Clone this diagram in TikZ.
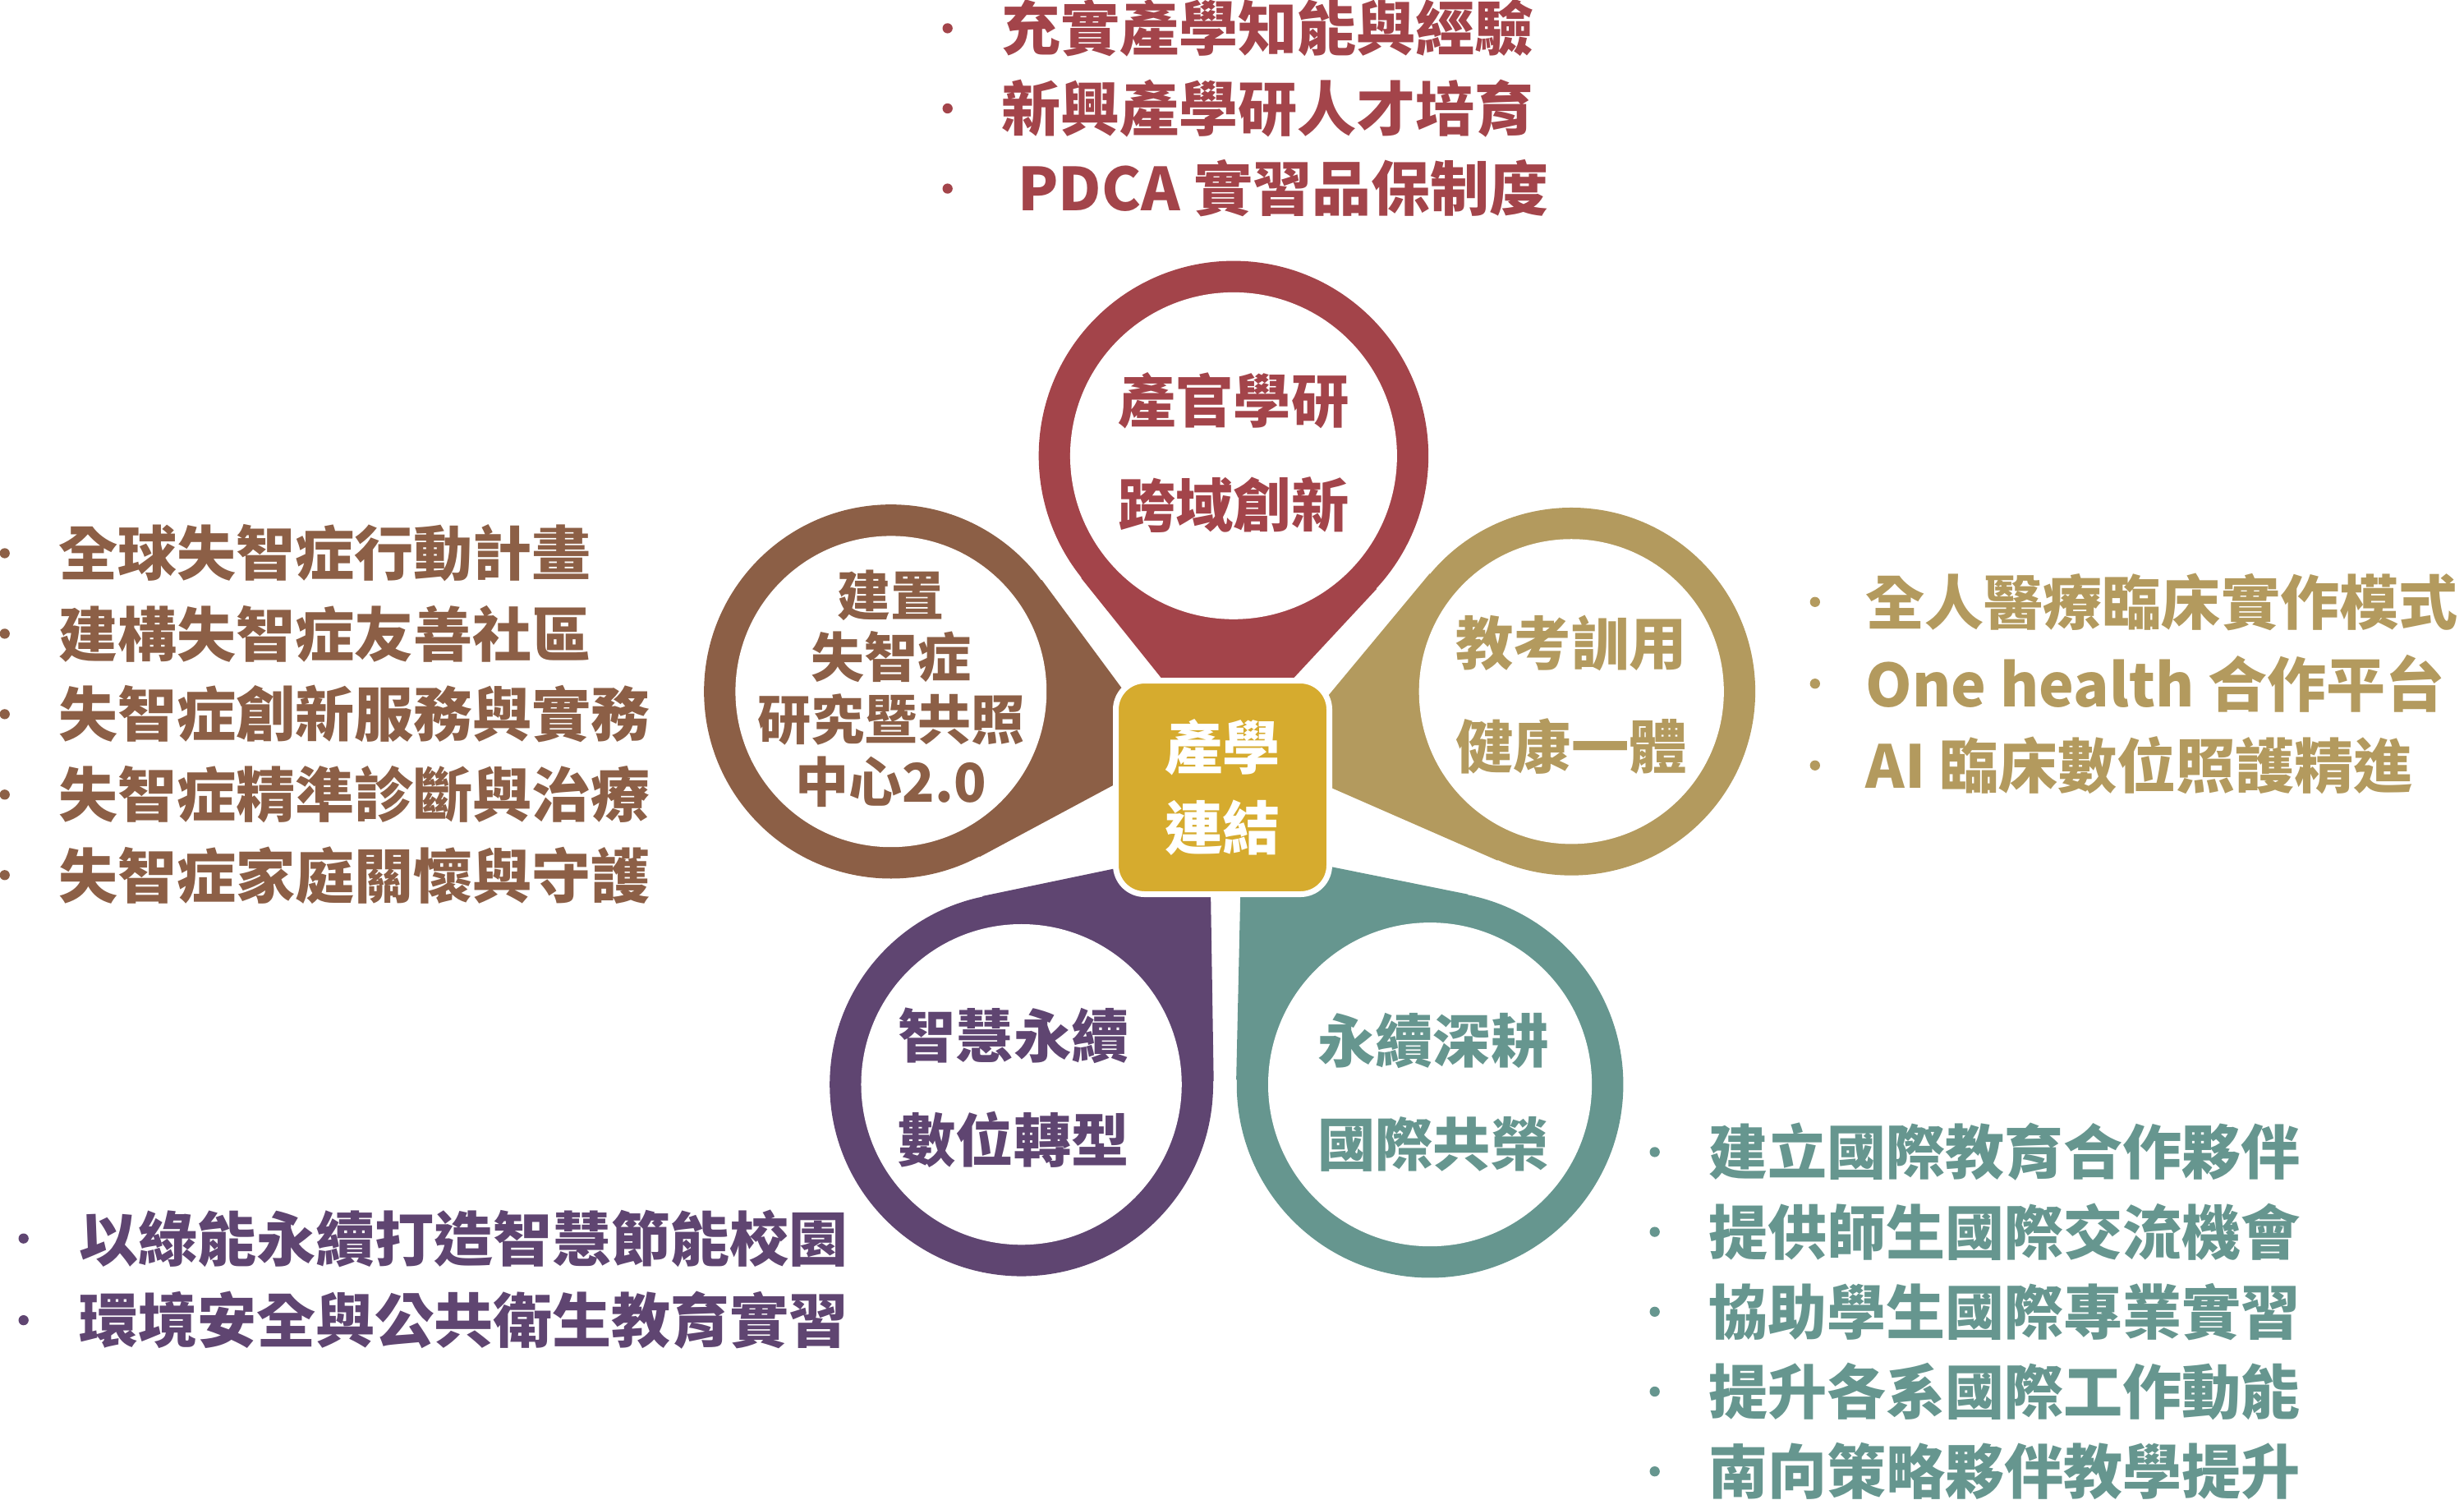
\documentclass[tikz,border=0pt]{standalone}
\usepackage{fontspec}
\newfontfamily\cjk{Noto Sans CJK TC}
\usetikzlibrary{calc}
\definecolor{petalred}{HTML}{A3444A}
\definecolor{petalgold}{HTML}{B39A5E}
\definecolor{petalbrown}{HTML}{8C5F46}
\definecolor{petalpurple}{HTML}{5F4571}
\definecolor{petalteal}{HTML}{66968F}
\definecolor{hubgold}{HTML}{D6AB2E}
\tikzset{
  petaltext/.style={font=\cjk\bfseries\fontsize{20}{24}\selectfont, align=center},
  bullettext/.style={font=\cjk\bfseries\fontsize{20.5}{24}\selectfont, anchor=west, inner sep=0pt},
  bulletdot/.style={circle, fill, inner sep=0pt, minimum size=3.5pt},
}
% name, colour, centre, radius, tip
\newcommand\petal[5]{%
  \node[circle, minimum size={2*#4*0.01913cm}, inner sep=0pt] (#1) at (#3) {};
  \coordinate (#1tip) at (#5);
  \fill[#2] (#1tip) -- (tangent cs:node=#1,point={(#1tip)},solution=1) -- (#1.center)
    -- (tangent cs:node=#1,point={(#1tip)},solution=2) -- cycle;
  \fill[#2] (#1.center) circle (#4);
  \fill[white] (#1.center) circle (#4-20);
}
\begin{document}
\begin{tikzpicture}[x=0.01913cm, y=-0.01913cm]
    \useasboundingbox (0,0) rectangle (1568,954);
    \petal{top}{petalred}{785,290}{124}{778,480}
    \petal{right}{petalgold}{1000,440}{117}{810,485}
    \petal{left}{petalbrown}{567,440}{119}{745,480}
    \petal{botl}{petalpurple}{650,690}{122}{770,540}
    \petal{botr}{petalteal}{910,690}{123}{790,540}
    % hub
    \node[fill=hubgold, draw=white, line width=2pt, rounded corners=10pt,
      minimum size=2.6cm, text=white, petaltext] (hub) at (778,501) {產學\\[4pt]連結};
    % petal texts
    \node[petaltext, text=petalred] (toptext) at (785,288) {產官學研\\[12pt]跨域創新};
    \node[petaltext, text=petalgold] (righttext) at (1000,442) {教考訓用\\[12pt]健康一體};
    \node[petaltext, text=petalbrown, font=\cjk\bfseries\fontsize{18.5}{21.5}\selectfont] (lefttext) at (567,438) {建置\\失智症\\研究暨共照\\中心2.0};
    \node[petaltext, text=petalpurple] (botltext) at (645,692) {智慧永續\\[12pt]數位轉型};
    \node[petaltext, text=petalteal] (botrtext) at (912,695) {永續深耕\\[12pt]國際共榮};
    % bullet lists
    \foreach \t [count=\i] in {充實產學知能與經驗, 新興產學研人才培育, {\hspace{0.2cm}PDCA 實習品保制度}}{
      \node[bullettext, text=petalred] (topb\i) at (637,18+51*\i-51) {\t};
      \node[bulletdot, petalred] (topd\i) at (603,18+51*\i-51) {};}
    \foreach \t [count=\i] in {全球失智症行動計畫, 建構失智症友善社區, 失智症創新服務與實務, 失智症精準診斷與治療, 失智症家庭關懷與守護}{
      \node[bullettext, text=petalbrown] (leftb\i) at (37,352+51.2*\i-51.2) {\t};
      \node[bulletdot, petalbrown] (leftd\i) at (3,352+51.2*\i-51.2) {};}
    \foreach \t [count=\i] in {全人醫療臨床實作模式, {One health 合作平台}, {AI 臨床數位照護精進}}{
      \node[bullettext, text=petalgold] (rightb\i) at (1187,383+52*\i-52) {\t};
      \node[bulletdot, petalgold] (rightd\i) at (1155,383+52*\i-52) {};}
    \foreach \t [count=\i] in {以綠能永續打造智慧節能校園, 環境安全與公共衛生教育實習}{
      \node[bullettext, text=petalpurple] (botlb\i) at (50,788+52*\i-52) {\t};
      \node[bulletdot, petalpurple] (botld\i) at (15,788+52*\i-52) {};}
    \foreach \t [count=\i] in {建立國際教育合作夥伴, 提供師生國際交流機會, 協助學生國際專業實習, 提升各系國際工作動能, 南向策略夥伴教學提升}{
      \node[bullettext, text=petalteal] (botrb\i) at (1087,733+50.8*\i-50.8) {\t};
      \node[bulletdot, petalteal] (botrd\i) at (1053,733+50.8*\i-50.8) {};}
\end{tikzpicture}
\end{document}
